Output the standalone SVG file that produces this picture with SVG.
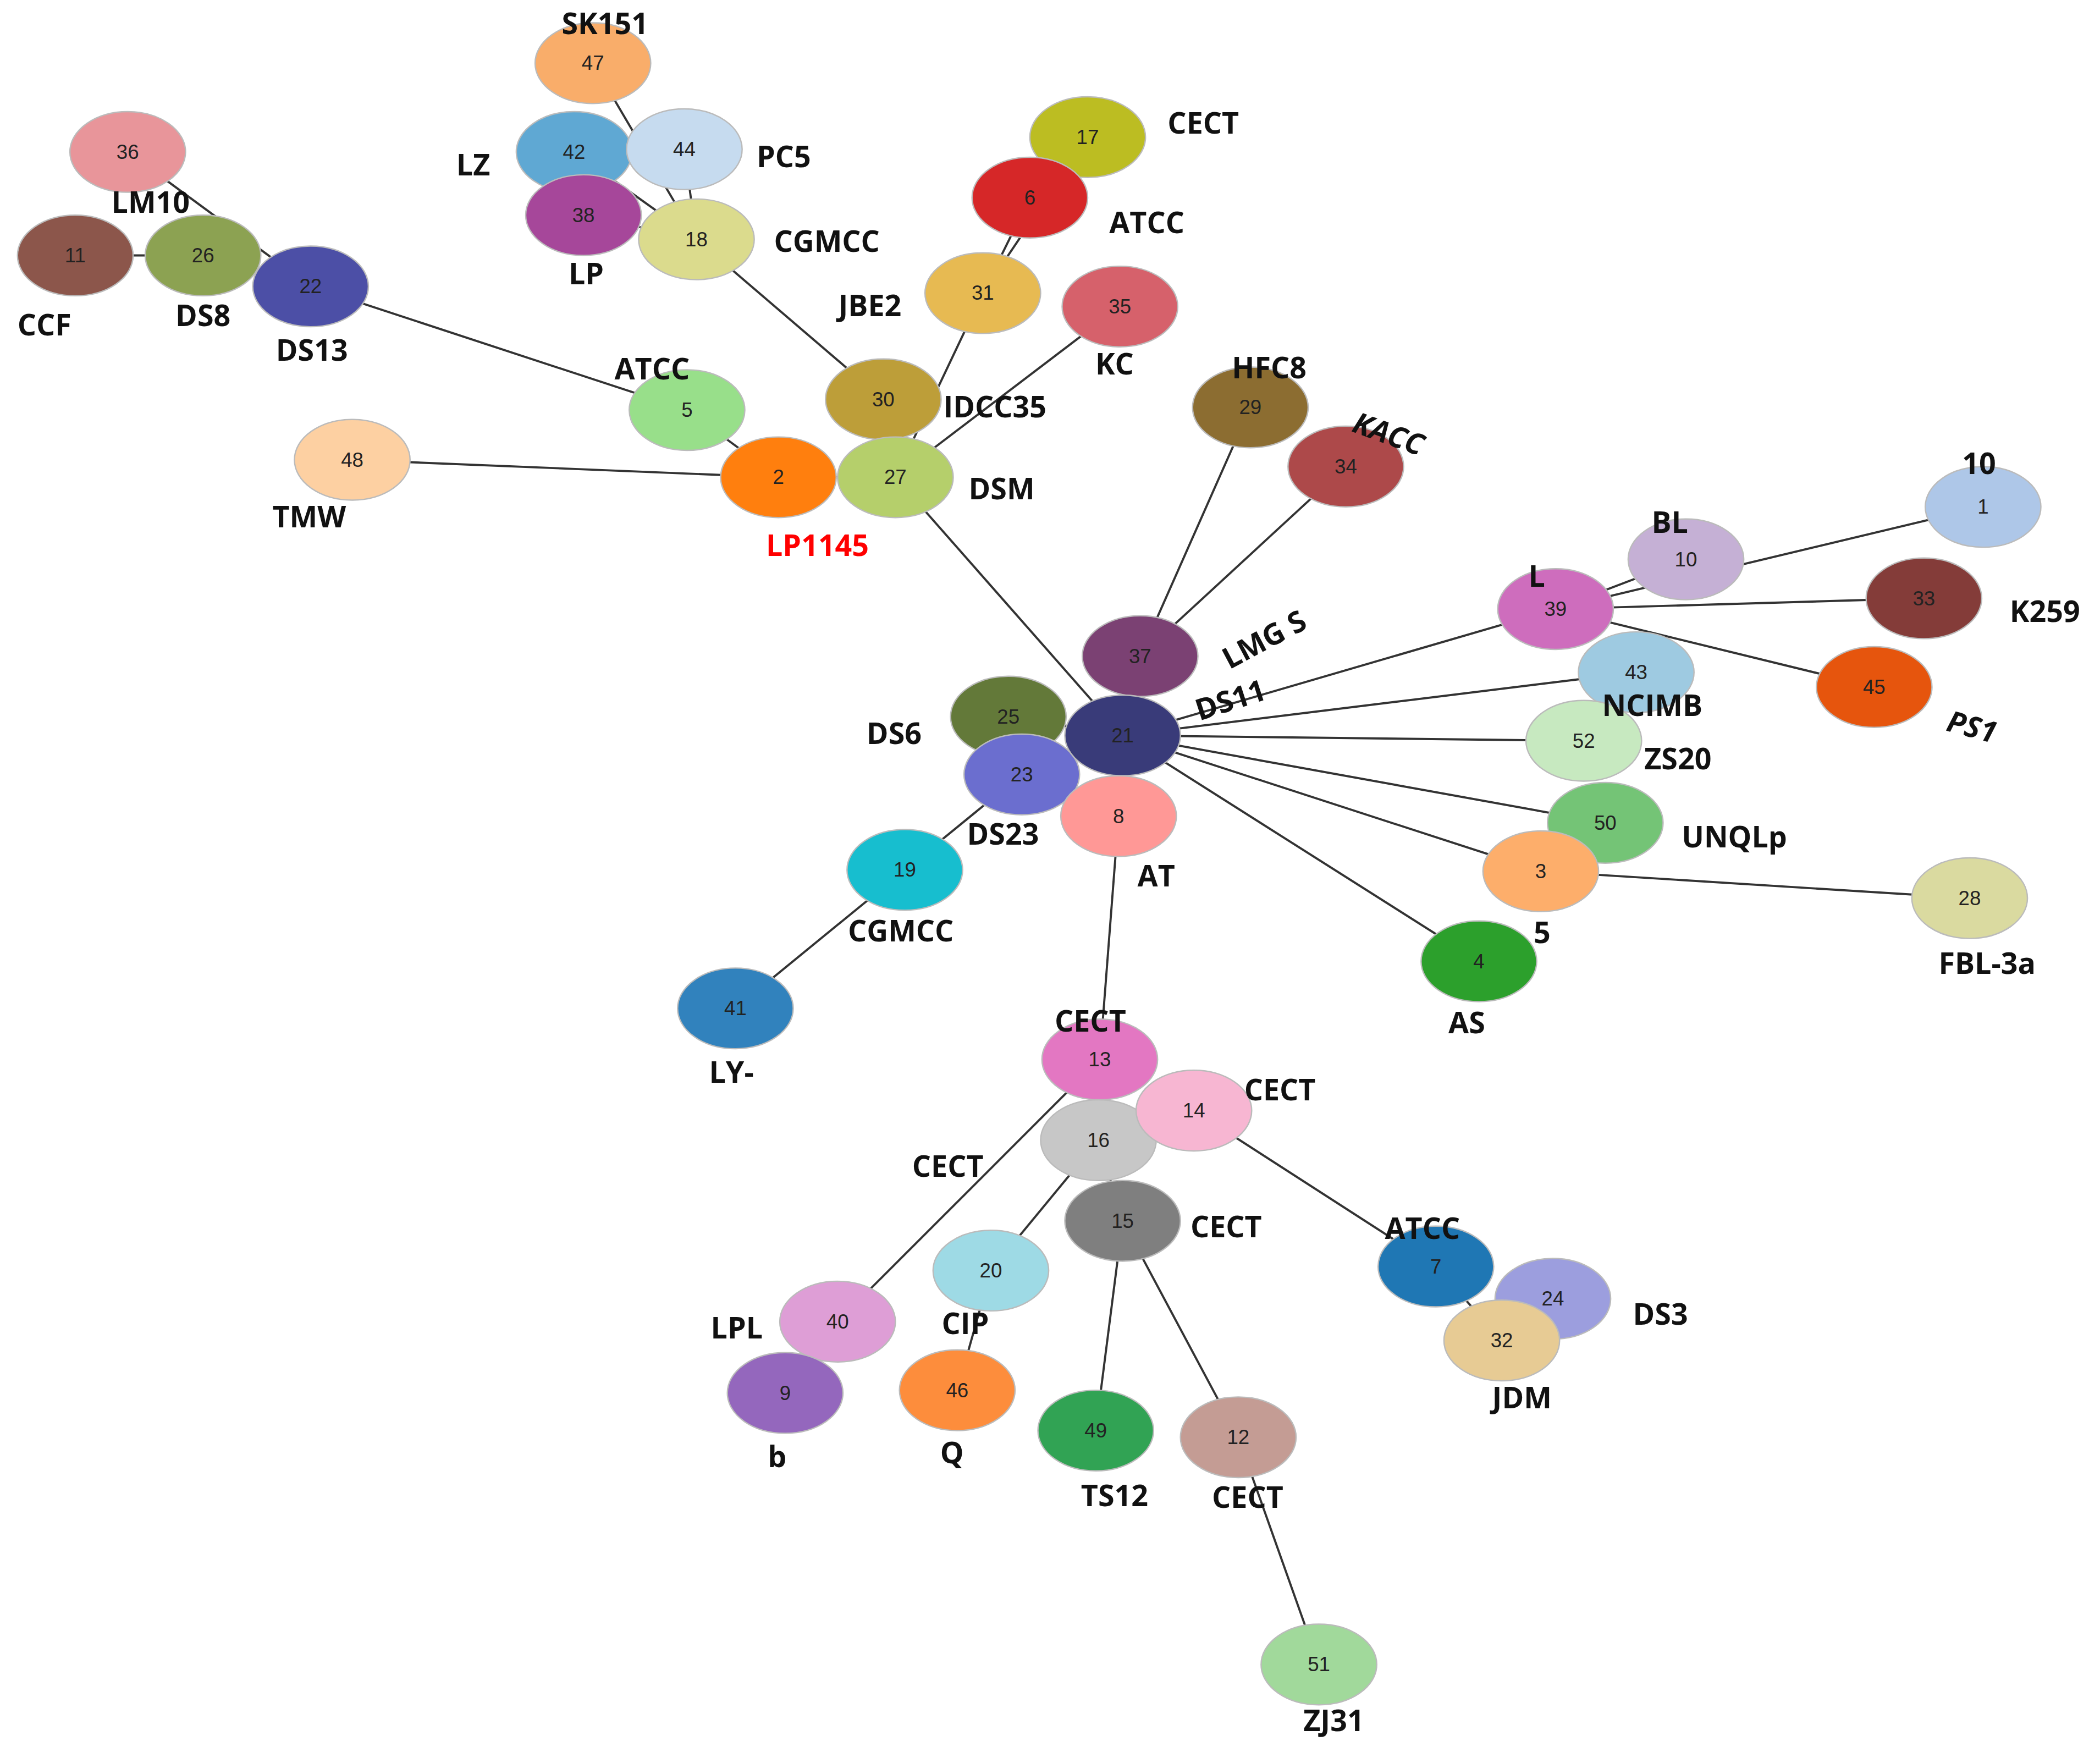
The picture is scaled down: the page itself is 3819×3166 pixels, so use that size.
<svg xmlns="http://www.w3.org/2000/svg" width="3819" height="3166" viewBox="0 0 3819 3166">
<style>
.n ellipse{stroke:#bbb;stroke-width:1}
.n text{font-family:"Liberation Sans",Arial,sans-serif;font-size:15px;fill:#222;text-anchor:middle;dominant-baseline:central}
.l{font-family:"Open Sans","Liberation Sans",Arial,sans-serif;font-size:22px;font-weight:bold;fill:#111;text-anchor:middle;dominant-baseline:central}
#edges line{stroke:#333;stroke-width:1.6}
</style>
<rect width="3819" height="3166" fill="#fff"/>
<g transform="scale(2.445)">
<g id="edges">
<line x1="441" y1="47" x2="518" y2="178"/><line x1="427" y1="113" x2="518" y2="178"/><line x1="509" y1="111" x2="518" y2="178"/><line x1="434" y1="160" x2="518" y2="178"/>
<line x1="95" y1="113" x2="231" y2="213"/><line x1="56" y1="190" x2="151" y2="190"/><line x1="151" y1="190" x2="231" y2="213"/><line x1="231" y1="213" x2="511" y2="305"/><line x1="511" y1="305" x2="579" y2="355"/>
<line x1="518" y1="178" x2="657" y2="297"/><line x1="809" y1="102" x2="731" y2="218"/><line x1="766" y1="147" x2="731" y2="218"/><line x1="731" y1="218" x2="666" y2="355"/><line x1="833" y1="228" x2="666" y2="355"/><line x1="657" y1="297" x2="666" y2="355"/>
<line x1="262" y1="342" x2="579" y2="355"/><line x1="579" y1="355" x2="666" y2="355"/><line x1="666" y1="355" x2="835" y2="547"/>
<line x1="930" y1="303" x2="848" y2="488"/><line x1="1001" y1="347" x2="848" y2="488"/><line x1="848" y1="488" x2="835" y2="547"/>
<line x1="1475" y1="377" x2="1157" y2="453"/><line x1="1254" y1="416" x2="1157" y2="453"/><line x1="1431" y1="445" x2="1157" y2="453"/><line x1="1394" y1="511" x2="1157" y2="453"/>
<line x1="1157" y1="453" x2="835" y2="547"/><line x1="1217" y1="500" x2="835" y2="547"/><line x1="1178" y1="551" x2="835" y2="547"/><line x1="1194" y1="612" x2="835" y2="547"/><line x1="1146" y1="648" x2="835" y2="547"/><line x1="1465" y1="668" x2="1146" y2="648"/><line x1="1100" y1="715" x2="835" y2="547"/>
<line x1="750" y1="533" x2="835" y2="547"/><line x1="760" y1="576" x2="835" y2="547"/><line x1="673" y1="647" x2="760" y2="576"/><line x1="547" y1="750" x2="673" y2="647"/><line x1="832" y1="607" x2="835" y2="547"/><line x1="832" y1="607" x2="818" y2="788"/>
<line x1="818" y1="788" x2="817" y2="848"/><line x1="818" y1="788" x2="623" y2="983"/><line x1="888" y1="826" x2="817" y2="848"/><line x1="888" y1="826" x2="1068" y2="942"/><line x1="817" y1="848" x2="835" y2="908"/><line x1="817" y1="848" x2="737" y2="945"/>
<line x1="835" y1="908" x2="815" y2="1064"/><line x1="835" y1="908" x2="921" y2="1069"/><line x1="921" y1="1069" x2="981" y2="1238"/><line x1="1068" y1="942" x2="1117" y2="997"/><line x1="1155" y1="966" x2="1117" y2="997"/><line x1="623" y1="983" x2="584" y2="1036"/><line x1="737" y1="945" x2="712" y2="1034"/>
</g>
<g id="n47" class="n"><ellipse cx="441" cy="47" rx="43" ry="30" fill="#f9ad6a"/><text x="441" y="47">47</text></g>
<g id="n42" class="n"><ellipse cx="427" cy="113" rx="43" ry="30" fill="#5fa8d3"/><text x="427" y="113">42</text></g>
<g id="n44" class="n"><ellipse cx="509" cy="111" rx="43" ry="30" fill="#c6dbef"/><text x="509" y="111">44</text></g>
<g id="n38" class="n"><ellipse cx="434" cy="160" rx="43" ry="30" fill="#a6479a"/><text x="434" y="160">38</text></g>
<g id="n18" class="n"><ellipse cx="518" cy="178" rx="43" ry="30" fill="#dbdb8d"/><text x="518" y="178">18</text></g>
<g id="n36" class="n"><ellipse cx="95" cy="113" rx="43" ry="30" fill="#e8959a"/><text x="95" y="113">36</text></g>
<g id="n26" class="n"><ellipse cx="151" cy="190" rx="43" ry="30" fill="#8ca252"/><text x="151" y="190">26</text></g>
<g id="n11" class="n"><ellipse cx="56" cy="190" rx="43" ry="30" fill="#8c564b"/><text x="56" y="190">11</text></g>
<g id="n22" class="n"><ellipse cx="231" cy="213" rx="43" ry="30" fill="#4c4fa6"/><text x="231" y="213">22</text></g>
<g id="n17" class="n"><ellipse cx="809" cy="102" rx="43" ry="30" fill="#bcbd22"/><text x="809" y="102">17</text></g>
<g id="n6" class="n"><ellipse cx="766" cy="147" rx="43" ry="30" fill="#d62728"/><text x="766" y="147">6</text></g>
<g id="n31" class="n"><ellipse cx="731" cy="218" rx="43" ry="30" fill="#e7ba52"/><text x="731" y="218">31</text></g>
<g id="n35" class="n"><ellipse cx="833" cy="228" rx="43" ry="30" fill="#d6616b"/><text x="833" y="228">35</text></g>
<g id="n5" class="n"><ellipse cx="511" cy="305" rx="43" ry="30" fill="#98df8a"/><text x="511" y="305">5</text></g>
<g id="n30" class="n"><ellipse cx="657" cy="297" rx="43" ry="30" fill="#bd9e39"/><text x="657" y="297">30</text></g>
<g id="n48" class="n"><ellipse cx="262" cy="342" rx="43" ry="30" fill="#fdd0a2"/><text x="262" y="342">48</text></g>
<g id="n2" class="n"><ellipse cx="579" cy="355" rx="43" ry="30" fill="#ff7f0e"/><text x="579" y="355">2</text></g>
<g id="n27" class="n"><ellipse cx="666" cy="355" rx="43" ry="30" fill="#b5cf6b"/><text x="666" y="355">27</text></g>
<g id="n29" class="n"><ellipse cx="930" cy="303" rx="43" ry="30" fill="#8c6d31"/><text x="930" y="303">29</text></g>
<g id="n34" class="n"><ellipse cx="1001" cy="347" rx="43" ry="30" fill="#ad494a"/><text x="1001" y="347">34</text></g>
<g id="n1" class="n"><ellipse cx="1475" cy="377" rx="43" ry="30" fill="#aec7e8"/><text x="1475" y="377">1</text></g>
<g id="n10" class="n"><ellipse cx="1254" cy="416" rx="43" ry="30" fill="#c5b0d5"/><text x="1254" y="416">10</text></g>
<g id="n33" class="n"><ellipse cx="1431" cy="445" rx="43" ry="30" fill="#843c39"/><text x="1431" y="445">33</text></g>
<g id="n39" class="n"><ellipse cx="1157" cy="453" rx="43" ry="30" fill="#ce6dbd"/><text x="1157" y="453">39</text></g>
<g id="n45" class="n"><ellipse cx="1394" cy="511" rx="43" ry="30" fill="#e6550d"/><text x="1394" y="511">45</text></g>
<g id="n43" class="n"><ellipse cx="1217" cy="500" rx="43" ry="30" fill="#9ecae1"/><text x="1217" y="500">43</text></g>
<g id="n37" class="n"><ellipse cx="848" cy="488" rx="43" ry="30" fill="#7b4173"/><text x="848" y="488">37</text></g>
<g id="n25" class="n"><ellipse cx="750" cy="533" rx="43" ry="30" fill="#637939"/><text x="750" y="533">25</text></g>
<g id="n23" class="n"><ellipse cx="760" cy="576" rx="43" ry="30" fill="#6b6ecf"/><text x="760" y="576">23</text></g>
<g id="n21" class="n"><ellipse cx="835" cy="547" rx="43" ry="30" fill="#393b79"/><text x="835" y="547">21</text></g>
<g id="n52" class="n"><ellipse cx="1178" cy="551" rx="43" ry="30" fill="#c7e9c0"/><text x="1178" y="551">52</text></g>
<g id="n50" class="n"><ellipse cx="1194" cy="612" rx="43" ry="30" fill="#74c476"/><text x="1194" y="612">50</text></g>
<g id="n8" class="n"><ellipse cx="832" cy="607" rx="43" ry="30" fill="#ff9896"/><text x="832" y="607">8</text></g>
<g id="n3" class="n"><ellipse cx="1146" cy="648" rx="43" ry="30" fill="#fdae6b"/><text x="1146" y="648">3</text></g>
<g id="n28" class="n"><ellipse cx="1465" cy="668" rx="43" ry="30" fill="#dadaa0"/><text x="1465" y="668">28</text></g>
<g id="n19" class="n"><ellipse cx="673" cy="647" rx="43" ry="30" fill="#17becf"/><text x="673" y="647">19</text></g>
<g id="n4" class="n"><ellipse cx="1100" cy="715" rx="43" ry="30" fill="#2ca02c"/><text x="1100" y="715">4</text></g>
<g id="n41" class="n"><ellipse cx="547" cy="750" rx="43" ry="30" fill="#3182bd"/><text x="547" y="750">41</text></g>
<g id="n13" class="n"><ellipse cx="818" cy="788" rx="43" ry="30" fill="#e377c2"/><text x="818" y="788">13</text></g>
<g id="n16" class="n"><ellipse cx="817" cy="848" rx="43" ry="30" fill="#c7c7c7"/><text x="817" y="848">16</text></g>
<g id="n14" class="n"><ellipse cx="888" cy="826" rx="43" ry="30" fill="#f7b6d2"/><text x="888" y="826">14</text></g>
<g id="n15" class="n"><ellipse cx="835" cy="908" rx="43" ry="30" fill="#7f7f7f"/><text x="835" y="908">15</text></g>
<g id="n20" class="n"><ellipse cx="737" cy="945" rx="43" ry="30" fill="#9edae5"/><text x="737" y="945">20</text></g>
<g id="n7" class="n"><ellipse cx="1068" cy="942" rx="43" ry="30" fill="#1f77b4"/><text x="1068" y="942">7</text></g>
<g id="n24" class="n"><ellipse cx="1155" cy="966" rx="43" ry="30" fill="#9c9ede"/><text x="1155" y="966">24</text></g>
<g id="n32" class="n"><ellipse cx="1117" cy="997" rx="43" ry="30" fill="#e7cb94"/><text x="1117" y="997">32</text></g>
<g id="n40" class="n"><ellipse cx="623" cy="983" rx="43" ry="30" fill="#de9ed6"/><text x="623" y="983">40</text></g>
<g id="n9" class="n"><ellipse cx="584" cy="1036" rx="43" ry="30" fill="#9467bd"/><text x="584" y="1036">9</text></g>
<g id="n46" class="n"><ellipse cx="712" cy="1034" rx="43" ry="30" fill="#fd8d3c"/><text x="712" y="1034">46</text></g>
<g id="n49" class="n"><ellipse cx="815" cy="1064" rx="43" ry="30" fill="#31a354"/><text x="815" y="1064">49</text></g>
<g id="n12" class="n"><ellipse cx="921" cy="1069" rx="43" ry="30" fill="#c49c94"/><text x="921" y="1069">12</text></g>
<g id="n51" class="n"><ellipse cx="981" cy="1238" rx="43" ry="30" fill="#a1d99b"/><text x="981" y="1238">51</text></g>
<g id="labels">
<text class="l" x="450" y="17">SK151</text><text class="l" x="352" y="122">LZ</text><text class="l" x="583" y="116">PC5</text><text class="l" x="112" y="150">LM10</text>
<text class="l" x="615" y="179">CGMCC</text><text class="l" x="436" y="203">LP</text><text class="l" x="33" y="241">CCF</text><text class="l" x="151" y="234">DS8</text><text class="l" x="232" y="260">DS13</text>
<text class="l" x="895" y="91">CECT</text><text class="l" x="853" y="165">ATCC</text><text class="l" x="647" y="227">JBE2</text><text class="l" x="829" y="270">KC</text><text class="l" x="485" y="274">ATCC</text>
<text class="l" x="740" y="302">IDCC35</text><text class="l" x="944" y="273">HFC8</text><text class="l" x="1033" y="322" font-style="italic" transform="rotate(20 1033 322)">KACC</text>
<text class="l" x="230" y="384">TMW</text><text class="l" x="745" y="363">DSM</text><text class="l" x="608" y="405" font-size="28" fill="#ff0000" style="fill:#ff0000">LP1145</text>
<text class="l" x="1472" y="344">10</text><text class="l" x="1242" y="388">BL</text><text class="l" x="1143" y="428">L</text><text class="l" x="1521" y="454">K259</text>
<text class="l" x="940" y="475" transform="rotate(-28 940 475)">LMG S</text><text class="l" x="915" y="520" transform="rotate(-18 915 520)">DS11</text>
<text class="l" x="1229" y="524">NCIMB</text><text class="l" x="1467" y="540" font-style="italic" transform="rotate(15 1467 540)">PS1</text><text class="l" x="665" y="545">DS6</text>
<text class="l" x="1248" y="564">ZS20</text><text class="l" x="1290" y="622">UNQLp</text><text class="l" x="746" y="620">DS23</text><text class="l" x="860" y="651">AT</text>
<text class="l" x="670" y="692">CGMCC</text><text class="l" x="1147" y="693">5</text><text class="l" x="1478" y="716">FBL-3a</text><text class="l" x="1091" y="760">AS</text><text class="l" x="544" y="797">LY-</text>
<text class="l" x="811" y="759">CECT</text><text class="l" x="952" y="810">CECT</text><text class="l" x="705" y="867">CECT</text><text class="l" x="912" y="912">CECT</text><text class="l" x="1058" y="913">ATCC</text>
<text class="l" x="1235" y="977">DS3</text><text class="l" x="548" y="987">LPL</text><text class="l" x="718" y="984">CIP</text><text class="l" x="1132" y="1039">JDM</text><text class="l" x="578" y="1083">b</text>
<text class="l" x="708" y="1080">Q</text><text class="l" x="829" y="1112">TS12</text><text class="l" x="928" y="1113">CECT</text><text class="l" x="992" y="1279">ZJ31</text>
</g>
</g>
</svg>
